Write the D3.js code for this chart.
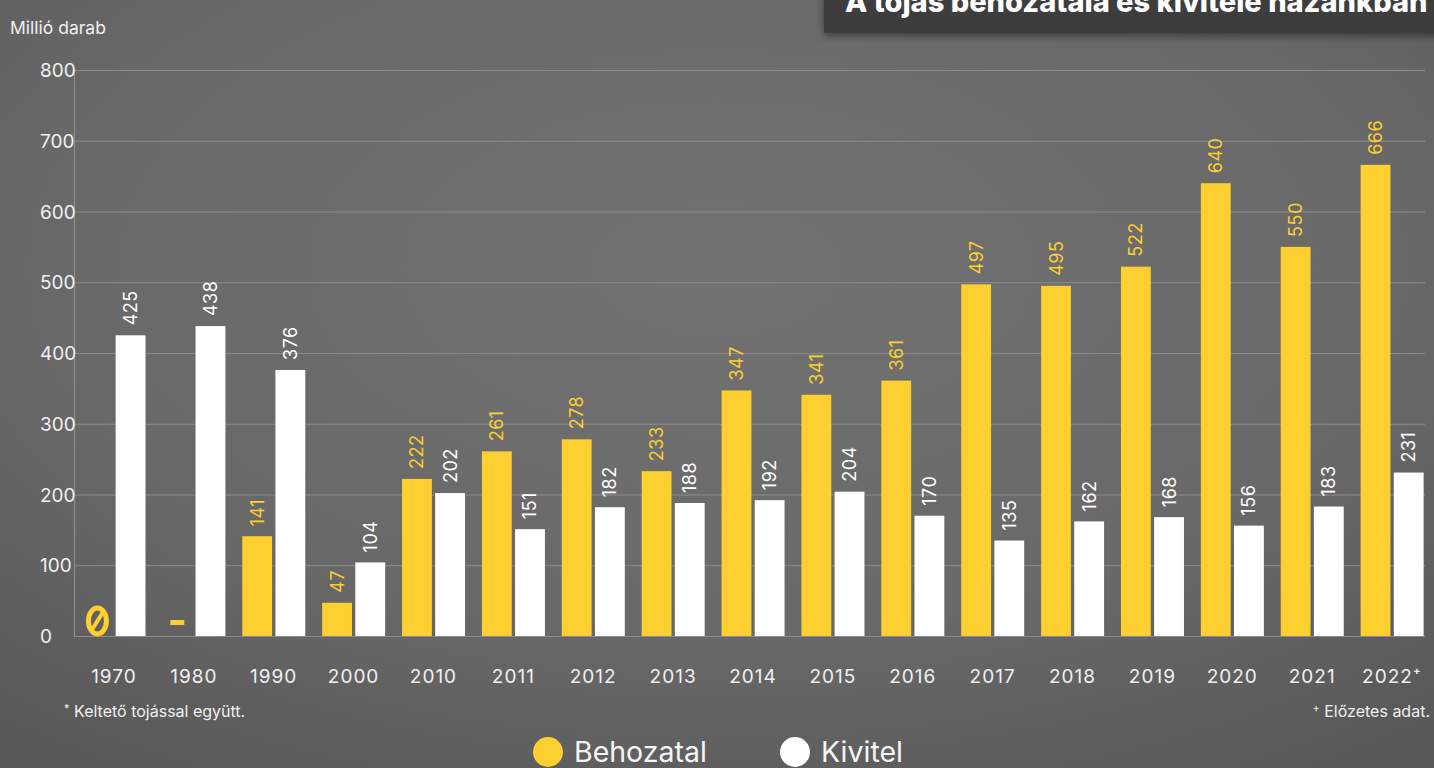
<!DOCTYPE html>
<html><head><meta charset="utf-8">
<script src="https://cdn.jsdelivr.net/npm/d3@7"></script>
<style>
html,body{margin:0;padding:0;overflow:hidden;}
body{width:1434px;height:768px;}
text{font-family:Inter,"Noto Sans",sans-serif;}
</style></head>
<body>
<svg id="c" width="1434" height="768"></svg>
<script>
const categories = ["1970","1980","1990","2000","2010","2011","2012","2013","2014","2015","2016","2017","2018","2019","2020","2021","2022"];
const categoryLabels = ["1970","1980","1990","2000","2010","2011","2012","2013","2014","2015","2016","2017","2018","2019","2020","2021","2022⁺"];
const behozatal = [0, null, 141, 47, 222, 261, 278, 233, 347, 341, 361, 497, 495, 522, 640, 550, 666];
const behozatalText = ["Ø", "-", "141","47","222","261","278","233","347","341","361","497","495","522","640","550","666"];
const kivitel = [425, 438, 376, 104, 202, 151, 182, 188, 192, 204, 170, 135, 162, 168, 156, 183, 231];
const yTicks = [0,100,200,300,400,500,600,700,800];
const seriesNames = ["Behozatal","Kivitel"];
const title = "A tojás behozatala és kivitele hazánkban";
const unitLabel = "Millió darab";

const YELLOW = "#fdcf30", WHITE = "#ffffff";
const svg = d3.select("#c");
const defs = svg.append("defs");
const g1 = defs.append("radialGradient").attr("id","bg").attr("cx","50%").attr("cy","35%").attr("r","80%");
g1.append("stop").attr("offset","0%").attr("stop-color","#727272");
g1.append("stop").attr("offset","60%").attr("stop-color","#686868");
g1.append("stop").attr("offset","100%").attr("stop-color","#575757");
svg.append("rect").attr("width",1434).attr("height",768).attr("fill","url(#bg)");
const f = defs.append("filter").attr("id","sh").attr("x","-10%").attr("y","-50%").attr("width","120%").attr("height","200%");
f.append("feDropShadow").attr("dx",0).attr("dy",3).attr("stdDeviation",4).attr("flood-color","#000").attr("flood-opacity",0.45);

// title box
svg.append("rect").attr("x",824).attr("y",-20).attr("width",620).attr("height",53).attr("fill","#3d3d3d").attr("filter","url(#sh)");
svg.append("text").attr("x",845).attr("y",12).attr("fill","#fff").attr("font-size",29).attr("font-weight",800).text(title);

const pLeft=74, pRight=1425, pTop=70, pBottom=636;
const y = d3.scaleLinear().domain([0,800]).range([pBottom,pTop]);
const x = d3.scaleBand().domain(categories).range([74,1432]).padding(0);
const x1 = d3.scaleBand().domain(seriesNames).range([8.5,71.5]).paddingInner(0.1);

// grid
svg.append("g").selectAll("line").data(yTicks).join("line")
  .attr("x1",pLeft).attr("x2",pRight).attr("y1",d=>y(d)+0.5).attr("y2",d=>y(d)+0.5)
  .attr("stroke","#8c8c8c").attr("stroke-width",1.2);
svg.append("line").attr("x1",pLeft+0.5).attr("x2",pLeft+0.5).attr("y1",pTop).attr("y2",pBottom).attr("stroke","#8c8c8c").attr("stroke-width",1.2);

// y axis labels
svg.append("g").selectAll("text").data(yTicks).join("text")
  .attr("x",40).attr("y",d=>y(d)+7).attr("fill","#f0f0f0").attr("font-size",19).text(d=>d);
svg.append("text").attr("x",10).attr("y",34).attr("fill","#f0f0f0").attr("font-size",17.5).text(unitLabel);

// bars
const groups = svg.append("g").selectAll("g").data(categories).join("g").attr("transform",d=>`translate(${x(d)},0)`);
groups.each(function(c,i){
  const g = d3.select(this);
  const b = behozatal[i], k = kivitel[i];
  const bx = x1("Behozatal")+x1.bandwidth()/2;
  if (b && b>0){
    g.append("rect").attr("x",x1("Behozatal")).attr("width",x1.bandwidth()).attr("y",y(b)).attr("height",y(0)-y(b)).attr("fill",YELLOW);
    g.append("text").attr("transform",`translate(${bx+6.5},${y(b)-10}) rotate(-90)`)
      .attr("fill",YELLOW).attr("font-size",18).attr("letter-spacing",0.5).text(behozatalText[i]);
  } else if (b===0){
    g.append("ellipse").attr("cx",bx).attr("cy",y(0)-15).attr("rx",9).attr("ry",13).attr("fill","none").attr("stroke",YELLOW).attr("stroke-width",5);
    g.append("line").attr("x1",bx-5).attr("x2",bx+5)
      .attr("y1",y(0)-7).attr("y2",y(0)-23).attr("stroke",YELLOW).attr("stroke-width",4);
  } else {
    g.append("rect").attr("x",bx-7).attr("width",14).attr("y",y(0)-16).attr("height",5).attr("fill",YELLOW);
  }
  g.append("rect").attr("x",x1("Kivitel")).attr("width",x1.bandwidth()).attr("y",y(k)).attr("height",y(0)-y(k)).attr("fill",WHITE);
  g.append("text").attr("transform",`translate(${x1("Kivitel")+x1.bandwidth()/2+6.5},${y(k)-10}) rotate(-90)`)
    .attr("fill","#fff").attr("font-size",18).attr("letter-spacing",0.5).text(k);
});

// x labels
svg.append("g").selectAll("text").data(categories).join("text")
  .attr("x",d=>x(d)+x.bandwidth()/2).attr("y",683).attr("text-anchor","middle")
  .attr("fill","#f0f0f0").attr("font-size",19).attr("letter-spacing",1).text((d,i)=>categoryLabels[i]);

// footnotes
const fn1 = svg.append("text").attr("x",64).attr("y",717).attr("fill","#f0f0f0").attr("font-size",16);
fn1.append("tspan").attr("font-size",11).attr("dy",-5).text("*");
fn1.append("tspan").attr("dy",5).text(" Keltető tojással együtt.");
const fn2 = svg.append("text").attr("x",1430).attr("y",717).attr("text-anchor","end").attr("fill","#f0f0f0").attr("font-size",16);
fn2.append("tspan").attr("font-size",11).attr("dy",-5).text("+");
fn2.append("tspan").attr("dy",5).text(" Előzetes adat.");

// legend
const leg = [{n:seriesNames[0],c:YELLOW,x:548},{n:seriesNames[1],c:WHITE,x:795}];
const lg = svg.append("g").selectAll("g").data(leg).join("g");
lg.append("circle").attr("cx",d=>d.x).attr("cy",752).attr("r",15).attr("fill",d=>d.c);
lg.append("text").attr("x",d=>d.x+26).attr("y",762).attr("fill","#f5f5f5").attr("font-size",28.5).text(d=>d.n);
</script>
</body></html>
